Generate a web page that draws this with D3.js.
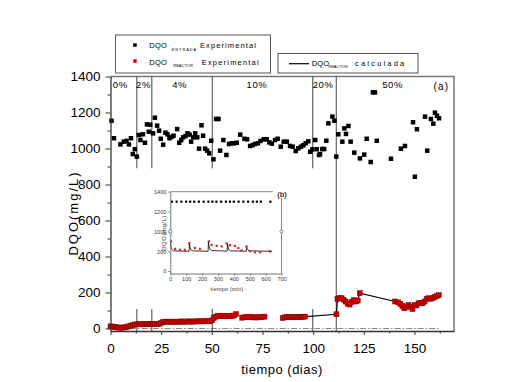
<!DOCTYPE html>
<html lang="es">
<head>
<meta charset="utf-8">
<script src="https://cdn.jsdelivr.net/npm/d3@7"></script>
<style>
  body { margin: 0; background: #fff; }
  svg { display: block; font-family: "Liberation Sans", Arial, sans-serif; }
</style>
</head>
<body>
<svg id="chart" width="528" height="382"></svg>
<script>
// ====================================
// Datos
// ====================================

// DQO de entrada, experimental
const entradaDias = [0.5, 1.7, 4.9, 6.6, 7.9, 9.1, 10.1, 11, 12, 13, 14, 14.8, 16, 17, 18, 18.9, 19.6,
    21, 21.9, 23, 24, 24.8, 26, 27.1, 28.1, 29.1, 30.1, 31.1, 32.9, 33.9, 34.9, 35.8, 37, 38, 39,
    39.8, 40.8, 41.8, 42.8, 43.7, 44.9, 45.7, 46.7, 47.7, 48.7, 49.7, 50.8, 52.1, 53.3, 54.1, 55.7,
    57.2, 58.5, 59.9, 61, 62.3, 64, 66.1, 67.4, 68.9, 70.2, 71.3, 72.7, 74, 75.6, 77.1, 78.4, 79.6,
    81.2, 82.5, 84, 85.5, 87, 88.6, 89.9, 91.4, 92.7, 94, 95.2, 96.3, 97.6, 98.6, 99.6, 101, 101.8,
    102.9, 103.4, 104.5, 105.4, 106.5, 107.5, 109.5, 110.5, 111.4, 112.4, 114.4, 115.4, 116.2, 117.4,
    118.5, 120.3, 123.1, 125.2, 126.4, 128.4, 129.5, 130.5, 131.4, 138.4, 143.3, 145.3, 149.3, 150.2,
    151.2, 155.2, 156.3, 158.1, 159.3, 160.1, 161.1, 162.1];
const entradaDQO = [1154, 1057, 1023, 1038, 1042, 1023, 1057, 969, 996, 955, 1075, 1047, 1079, 1032, 1134, 1093, 1132,
    1084, 1171, 1127, 1099, 1054, 1021, 1088, 1079, 1057, 1064, 1071, 1108, 1032, 1047, 1062, 1069, 1084, 1077,
    1038, 1062, 1084, 1062, 999, 1129, 1071, 999, 988, 973, 1043, 940, 1164, 1164, 988, 1047,
    964, 1025, 1029, 1029, 1032, 1077, 1054, 1051, 1014, 1019, 1025, 1029, 1042, 1051, 1051, 1034, 1027,
    1047, 1054, 1010, 1038, 1038, 1014, 1010, 986, 1001, 1010, 1018, 1029, 1040, 982, 995, 1047, 996,
    964, 969, 997, 997, 1043, 1140, 1177, 1154, 955, 1079, 1038, 1112, 1081, 1125,
    1038, 977, 945, 966, 1054, 925, 1312, 1312, 1043, 943, 999, 1014, 1146, 843,
    1107, 1177, 988, 1164, 1138, 1199, 1182, 1168];

// DQO del reactor, experimental
const reactorDias = [0, 1, 2, 3, 4, 5, 6, 7, 8, 9, 10, 11, 12, 13, 14, 15, 16, 17, 18, 19, 20,
    21, 22, 23, 24, 25, 26, 27, 28, 29, 30, 31, 32, 33, 34, 35, 36, 37, 38, 39, 40,
    41, 42, 43, 44, 45, 46, 47, 48, 49, 50, 51, 52, 53, 54, 55, 56, 57, 58, 59, 60, 61, 62,
    65, 66, 67, 68, 69, 70, 71, 72, 73, 74, 75, 76,
    85, 86, 87, 88, 89, 90, 91, 92, 93, 94, 95, 96,
    111.5, 112, 113, 114, 115, 116, 117, 118, 119, 120, 121, 122, 123,
    140.5, 142, 143, 144, 145, 146, 147, 148, 149, 150, 151, 152, 153, 154, 155, 156, 157, 158, 159, 160, 161, 162];
const reactorDQO = [12, 10, 8, 6, 5, 5, 5, 6, 8, 12, 16, 19, 22, 23, 24, 24, 23, 24, 25, 24, 24,
    25, 25, 24, 25, 30, 36, 38, 38, 37, 38, 38, 37, 38, 38, 39, 38, 38, 39, 39, 38,
    39, 39, 40, 39, 40, 40, 40, 40, 41, 45, 58, 66, 70, 71, 70, 69, 69, 70, 70, 70, 72, 80,
    60, 62, 63, 64, 63, 62, 62, 61, 62, 63, 64, 66,
    58, 62, 64, 64, 63, 62, 63, 63, 64, 64, 65, 66,
    79, 164, 170, 168, 160, 150, 138, 133, 148, 158, 150, 155, 196,
    150, 145, 137, 125, 112, 120, 130, 120, 108, 130, 128, 140, 142, 140, 150, 165, 168, 165, 170, 175, 180, 185];

// DQO del reactor, calculada
const calcDias = [95, 111.5, 112, 113, 114, 115, 116, 117, 118, 119, 120, 121, 122, 123,
    140.5, 142, 143, 144, 145, 146, 147, 148, 149, 150, 151, 152, 153, 154, 155, 156, 157, 158, 159, 160, 161, 162];
const calcDQO = [65, 79, 164, 170, 168, 160, 150, 138, 133, 148, 158, 150, 155, 196,
    150, 145, 137, 125, 112, 120, 130, 120, 108, 130, 128, 140, 142, 140, 150, 165, 168, 165, 170, 175, 180, 185];

// Fases (% de ...)
const faseLimites = [13, 20.4, 50.2, 99.8, 111.4];
const faseEtiquetas = ["0%", "2%", "4%", "10%", "20%", "50%"];
const faseEtiquetaDia = [4.8, 16.3, 34.1, 72.3, 104.9, 139.2];

const xTicks = [0, 25, 50, 75, 100, 125, 150];
const xMinorTicks = [12.5, 37.5, 62.5, 87.5, 112.5, 137.5, 162.5];
const yTicks = [0, 200, 400, 600, 800, 1000, 1200, 1400];
const yMinorTicks = [100, 300, 500, 700, 900, 1100, 1300];

// Gráfico insertado (b): un ciclo en minutos
const insetEntradaMin = [10, 40, 70, 100, 125, 150, 180, 210, 240, 265, 290, 320, 350, 375, 400, 430, 460, 490, 520, 545, 570, 630];
const insetEntradaDQO = [1300, 1300, 1300, 1300, 1300, 1300, 1300, 1300, 1300, 1300, 1300, 1300, 1300, 1300, 1300, 1300, 1300, 1300, 1300, 1300, 1300, 1300];
const insetReactorMin = [5, 30, 61, 92, 120, 155, 187, 243, 260, 292, 323, 355, 375, 407, 428, 449, 480, 501, 533, 564, 627];
const insetReactorDQO = [300, 225, 215, 215, 283, 233, 225, 300, 265, 255, 250, 280, 262, 255, 233, 210, 250, 200, 190, 190, 200];
const insetCalcMin = [0, 3, 10, 20, 118, 120, 123, 130, 140, 238, 240, 243, 250, 260, 358, 360, 363, 370, 380, 478, 480, 483, 490, 500, 640];
const insetCalcDQO = [310, 260, 220, 205, 200, 285, 250, 215, 205, 200, 300, 255, 220, 208, 202, 280, 245, 215, 205, 200, 250, 230, 212, 205, 200];
const insetXTicks = [0, 100, 200, 300, 400, 500, 600, 700];
const insetYTicks = [0, 200, 1000, 1200, 1400];


const svg = d3.select("#chart");

/**
 * Dibuja cuadrados centrados en (x, y)
 */
function drawSquares(group, dias, valores, x, y, size, fill, stroke) {
    group.append("g")
        .selectAll("rect")
        .data(dias.map((d, i) => [d, valores[i]]))
        .join("rect")
        .attr("x", d => x(d[0]) - size / 2)
        .attr("y", d => y(d[1]) - size / 2)
        .attr("width", size)
        .attr("height", size)
        .attr("fill", fill)
        .attr("stroke", stroke || "none")
        .attr("stroke-width", 0.5);
}

/**
 * Gráfico principal (a)
 */
function drawMain() {
    const x = d3.scaleLinear().domain([0, 169.5]).range([110.5, 454]);
    const y = d3.scaleLinear().domain([-14, 1400]).range([331, 76.5]);
    const g = svg.append("g");

    // marco superior y derecho
    g.append("path")
        .attr("d", `M${x(0)},${y(1400)}H${x(169.5)}V${y(-14)}`)
        .attr("fill", "none")
        .attr("stroke", "#777")
        .attr("stroke-width", 1.5);

    // línea de referencia en 0
    g.append("line")
        .attr("x1", x(4)).attr("x2", x(162))
        .attr("y1", y(0)).attr("y2", y(0))
        .attr("stroke", "#666")
        .attr("stroke-width", 0.8)
        .attr("stroke-dasharray", "6,2,1.5,2");

    // límites de fase
    faseLimites.forEach((d, i) => {
        const ultimo = i === faseLimites.length - 1;
        const tramos = ultimo ? [[-14, 1400]] : [[890, 1400], [-14, 108]];
        tramos.forEach(t => {
            g.append("line")
                .attr("x1", x(d)).attr("x2", x(d))
                .attr("y1", y(t[0])).attr("y2", y(t[1]))
                .attr("stroke", "#444")
                .attr("stroke-width", 1);
        });
    });

    g.selectAll(".fase")
        .data(faseEtiquetas)
        .join("text")
        .attr("class", "fase")
        .attr("x", (d, i) => x(faseEtiquetaDia[i]))
        .attr("y", 88)
        .attr("text-anchor", "middle")
        .attr("font-size", 9.5)
        .attr("letter-spacing", 0.6)
        .text(d => d);

    g.append("text")
        .attr("x", 441.5).attr("y", 90)
        .attr("text-anchor", "middle")
        .attr("font-size", 10)
        .attr("letter-spacing", 1.2)
        .text("(a)");

    // calculada
    const line = d3.line().x(d => x(d[0])).y(d => y(d[1]));
    g.append("path")
        .datum(calcDias.map((d, i) => [d, calcDQO[i]]))
        .attr("d", line)
        .attr("fill", "none")
        .attr("stroke", "#000")
        .attr("stroke-width", 1.2);

    drawSquares(g, reactorDias, reactorDQO, x, y, 5, "#c80000", "#800000");
    drawSquares(g, entradaDias, entradaDQO, x, y, 4.5, "#000");

    // ejes
    const yAxis = g.append("g")
        .attr("transform", `translate(${x(0)},0)`)
        .call(d3.axisLeft(y).tickValues(yTicks).tickFormat(d3.format("d"))
            .tickSize(5).tickPadding(5).tickSizeOuter(0));
    g.append("g")
        .attr("transform", `translate(${x(0)},0)`)
        .call(d3.axisLeft(y).tickValues(yMinorTicks).tickSize(3).tickFormat("").tickSizeOuter(0))
        .select(".domain").remove();

    const xAxis = g.append("g")
        .attr("transform", `translate(0,${y(-14)})`)
        .call(d3.axisBottom(x).tickValues(xTicks).tickFormat(d3.format("d"))
            .tickSize(4).tickPadding(8).tickSizeOuter(0));
    g.append("g")
        .attr("transform", `translate(0,${y(-14)})`)
        .call(d3.axisBottom(x).tickValues(xMinorTicks).tickSize(2.5).tickFormat("").tickSizeOuter(0))
        .select(".domain").remove();

    [yAxis, xAxis].forEach(a => {
        a.select(".domain").attr("stroke", "#333").attr("stroke-width", 1.3);
        a.selectAll("text").attr("font-size", 13.5).attr("fill", "#000")
            .attr("font-family", "Liberation Sans, Arial, sans-serif");
    });
    g.selectAll(".tick line").attr("stroke", "#333");

    // títulos de ejes
    g.append("text")
        .attr("x", 282).attr("y", 374)
        .attr("text-anchor", "middle")
        .attr("font-size", 13)
        .attr("letter-spacing", 0.5)
        .text("tiempo (dias)");

    g.append("text")
        .attr("transform", "translate(78,213) rotate(-90)")
        .attr("text-anchor", "middle")
        .attr("font-size", 13)
        .attr("letter-spacing", 2)
        .text("DQO(mg/L)");
}

/**
 * Gráfico insertado (b)
 */
function drawInset() {
    const x = d3.scaleLinear().domain([0, 700]).range([170.3, 281.5]);
    const y = d3.scaleLinear().domain([-25, 400, 1000, 1400]).range([273.5, 231.6, 231.6, 191.7]);
    const g = svg.append("g");

    g.append("rect")
        .attr("x", 145).attr("y", 184)
        .attr("width", 148).attr("height", 110)
        .attr("fill", "#fff");

    // marco
    g.append("path")
        .attr("d", `M${x(0)},${y(1400)}H273M${x(700)},198V${y(-25)}`)
        .attr("fill", "none")
        .attr("stroke", "#888")
        .attr("stroke-width", 1);

    g.append("text")
        .attr("x", 282).attr("y", 196.5)
        .attr("text-anchor", "middle")
        .attr("font-size", 7.5)
        .attr("font-weight", "bold")
        .attr("fill", "#333")
        .text("(b)");

    const line = d3.line().x(d => x(d[0])).y(d => y(d[1]));
    g.append("path")
        .datum(insetCalcMin.map((d, i) => [d, insetCalcDQO[i]]))
        .attr("d", line)
        .attr("fill", "none")
        .attr("stroke", "#000")
        .attr("stroke-width", 0.8);

    drawSquares(g, insetReactorMin, insetReactorDQO, x, y, 2.2, "#dd2222");
    drawSquares(g, insetEntradaMin, insetEntradaDQO, x, y, 2.2, "#000");

    const yAxis = g.append("g")
        .attr("transform", `translate(${x(0)},0)`)
        .call(d3.axisLeft(y).tickValues(insetYTicks).tickFormat(d3.format("d"))
            .tickSize(2).tickPadding(2).tickSizeOuter(0));
    const xAxis = g.append("g")
        .attr("transform", `translate(0,${y(-25)})`)
        .call(d3.axisBottom(x).tickValues(insetXTicks).tickFormat(d3.format("d"))
            .tickSize(2).tickPadding(2).tickSizeOuter(0));

    [yAxis, xAxis].forEach(a => {
        a.select(".domain").attr("stroke", "#777");
        a.selectAll(".tick line").attr("stroke", "#777");
        a.selectAll("text").attr("font-size", 5.5).attr("fill", "#333")
            .attr("font-family", "Liberation Sans, Arial, sans-serif");
    });

    // marcas de corte del eje
    [x(0), x(700)].forEach(cx => {
        g.append("circle")
            .attr("cx", cx).attr("cy", y(400))
            .attr("r", 1.6)
            .attr("fill", "#fff")
            .attr("stroke", "#555")
            .attr("stroke-width", 0.7);
    });

    g.append("text")
        .attr("x", 227).attr("y", 291)
        .attr("text-anchor", "middle")
        .attr("font-size", 5.5)
        .attr("letter-spacing", 0.2)
        .attr("fill", "#333")
        .text("tiempo (min)");

    g.append("text")
        .attr("transform", "translate(166,233) rotate(-90)")
        .attr("text-anchor", "middle")
        .attr("font-size", 6)
        .attr("letter-spacing", 0.5)
        .attr("fill", "#333")
        .text("DQO(mg/L)");
}

/**
 * Escribe "DQO" con subíndice y sufijo
 */
function drawLabel(g, x0, xSub, xSuf, base, sub, suf, sufSpacing, subSpacing) {
    g.append("text").attr("x", x0).attr("y", base)
        .attr("font-size", 7.5).attr("letter-spacing", 0.2).text("DQO");
    g.append("text").attr("x", xSub).attr("y", base + 2.4)
        .attr("font-size", 4).attr("letter-spacing", subSpacing).text(sub);
    g.append("text").attr("x", xSuf).attr("y", base)
        .attr("font-size", 7.5).attr("letter-spacing", sufSpacing).text(suf);
}

/**
 * Leyendas
 */
function drawLegend() {
    const g = svg.append("g");

    g.append("rect")
        .attr("x", 115.5).attr("y", 35)
        .attr("width", 155).attr("height", 38)
        .attr("fill", "#fff").attr("stroke", "#555").attr("stroke-width", 1);
    g.append("rect")
        .attr("x", 278).attr("y", 53.5)
        .attr("width", 140).attr("height", 19.5)
        .attr("fill", "#fff").attr("stroke", "#555").attr("stroke-width", 1);

    g.append("rect").attr("x", 133.2).attr("y", 43.3).attr("width", 3.5).attr("height", 3.5).attr("fill", "#000");
    g.append("rect").attr("x", 133.2).attr("y", 59.3).attr("width", 3.5).attr("height", 3.5).attr("fill", "#dd0000");

    drawLabel(g, 149.3, 171.7, 200, 48.3, "ENTRADA", "Experimental", 1.1, 0.9);
    drawLabel(g, 149.3, 173.3, 201.7, 65, "REACTOR", "Experimental", 1.2, 0);

    g.append("line")
        .attr("x1", 289).attr("x2", 309)
        .attr("y1", 63.7).attr("y2", 63.7)
        .attr("stroke", "#000").attr("stroke-width", 1.2);
    drawLabel(g, 311.7, 328.3, 355, 66, "REACTOR", "calculada", 2.2, 0);
}

drawMain();
drawInset();
drawLegend();
</script>
</body>
</html>
